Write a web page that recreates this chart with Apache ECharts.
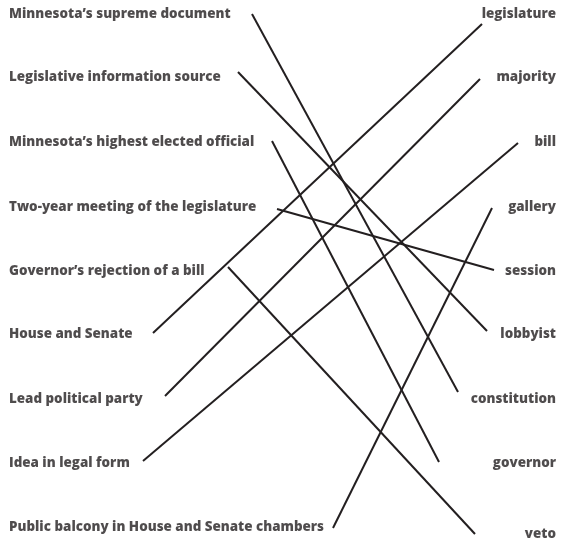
<!DOCTYPE html>
<html>
<head>
<meta charset="utf-8">
<script src="https://cdn.jsdelivr.net/npm/echarts@6/dist/echarts.min.js"></script>
<style>
  html, body { margin: 0; padding: 0; background: #fff; }
  #chart { width: 561px; height: 539px; }
</style>
</head>
<body>
<div id="chart"></div>
<script>
// terms on the left, answers on the right
var leftLabels = [
    "Minnesota\u2019s supreme document",
    "Legislative information source",
    "Minnesota\u2019s highest elected official",
    "Two-year meeting of the legislature",
    "Governor\u2019s rejection of a bill",
    "House and Senate",
    "Lead political party",
    "Idea in legal form",
    "Public balcony in House and Senate chambers"
];
var rightLabels = ["legislature", "majority", "bill", "gallery", "session",
    "lobbyist", "constitution", "governor", "veto"];

// row positions of the labels (y, top down)
var leftRowY = [14, 77, 142, 207, 271, 334, 399, 463, 527];
var rightRowY = [14, 77, 142, 207, 271, 334, 399, 463, 534];

// matching lines: start point near the left term, end point near the answer
var lineStartX = [252, 238, 272, 277, 228, 153, 165, 143, 333];
var lineStartY = [14, 72, 141, 209, 267, 333, 396, 461, 528];
var lineEndX = [458, 487, 439, 494, 475, 482, 480, 518, 492];
var lineEndY = [392, 331, 462, 270, 534, 24, 79, 143, 208];

var myChart = echarts.init(document.getElementById('chart'));

var lineData = [];
for (var i = 0; i < lineStartX.length; i++) {
    lineData.push({coords: [[lineStartX[i], lineStartY[i]], [lineEndX[i], lineEndY[i]]]});
}

var textStyle = {
    show: true,
    color: '#231f20',
    fontFamily: 'Open Sans',
    fontWeight: 800,
    fontSize: 13.4,
    formatter: '{b}'
};

var option = {
    animation: false,
    grid: {left: 0, right: 0, top: 0, bottom: 0},
    xAxis: {type: 'value', min: 0, max: 561, show: false},
    yAxis: {type: 'value', min: 0, max: 539, inverse: true, show: false},
    series: [
        {
            type: 'lines',
            coordinateSystem: 'cartesian2d',
            polyline: false,
            lineStyle: {color: '#231f20', width: 2, opacity: 1},
            data: lineData,
            z: 1
        },
        {
            type: 'scatter',
            symbolSize: 0,
            label: Object.assign({position: 'right', distance: 0}, textStyle),
            data: leftLabels.map(function (name, idx) {
                return {name: name, value: [9, leftRowY[idx]]};
            }),
            z: 2
        },
        {
            type: 'scatter',
            symbolSize: 0,
            label: Object.assign({position: 'left', distance: 0}, textStyle),
            data: rightLabels.map(function (name, idx) {
                return {name: name, value: [556, rightRowY[idx]]};
            }),
            z: 2
        }
    ]
};
myChart.setOption(option);
</script>
</body>
</html>
